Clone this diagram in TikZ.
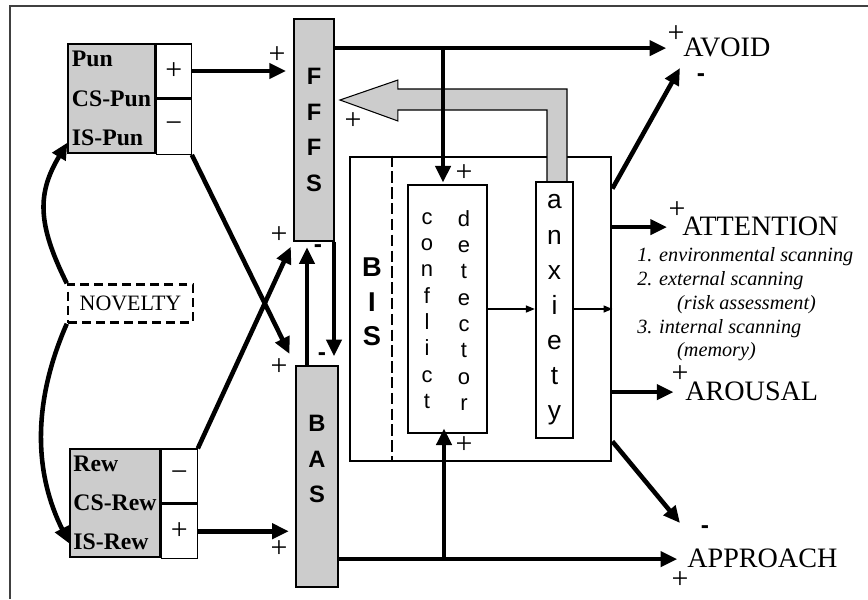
\documentclass[tikz,border=0pt]{standalone}
\usepackage{fontspec}
\setmainfont{Liberation Serif}
\setsansfont{Liberation Sans}
\usetikzlibrary{arrows.meta,positioning,calc}
\colorlet{dots}{black!20}

\begin{document}
\begin{tikzpicture}[
		x=0.02cm, y=-0.02cm,
		box/.style={draw, line width=0.7pt, fill=#1, inner sep=0pt, align=center},
		box/.default=white,
		stack/.style={align=center, font=\sffamily\bfseries\fontsize{13.5}{20.4}\selectfont},
		lbl/.style={align=left, font=\bfseries\fontsize{13.5}{22.3}\selectfont},
		outtxt/.style={inner sep=0pt, anchor=base west, text height=11pt, text depth=2pt, font=\fontsize{16}{16}\selectfont},
		sgn/.style={inner sep=0pt, font=\fontsize{17}{17}\selectfont},
		mns/.style={inner sep=0pt, font=\sffamily\bfseries\fontsize{14}{14}\selectfont},
		arr/.style={-{Triangle[length=9.5pt,width=8.5pt]}, line width=2.6pt},
		tarr/.style={-{Triangle[length=5pt,width=4pt]}, line width=0.6pt}
		]
		\useasboundingbox (0,0) rectangle (868,599);
		\draw[black!75, line width=1.1pt] (868,6) -- (10,6) -- (10,599);
		
		\node[box=dots, lbl, minimum width=1.74cm, minimum height=2.18cm] (punL) at (111.5,98.5) {Pun\\CS-Pun\\IS-Pun};
		\node[box, sgn, minimum width=0.7cm, minimum height=1.08cm, anchor=north west] (punP) at (punL.north east) {+};
		\node[box, sgn, minimum width=0.7cm, minimum height=1.1cm, anchor=north] (punM) at (punP.south) {−};
		\node[box=dots, lbl, minimum width=1.8cm, minimum height=2.16cm] (rewL) at (115,503) {Rew\\CS-Rew\\IS-Rew};
		\node[box, sgn, minimum width=0.72cm, minimum height=1.08cm, anchor=north west] (rewM) at (rewL.north east) {−};
		\node[box, sgn, minimum width=0.72cm, minimum height=1.08cm, anchor=north] (rewP) at (rewM.south) {+};
		\node[box, line width=1.4pt, dash pattern=on 5pt off 3pt, minimum width=2.5cm, minimum height=0.76cm,
			font=\fontsize{12.5}{12.5}\selectfont] (novelty) at (130.5,303.5) {NOVELTY};
		
		\node[box=dots, stack, line width=1.1pt, minimum width=0.8cm, minimum height=4.44cm] (fffs) at (314,130) {F\\F\\F\\S};
		\node[box=dots, line width=1.1pt, minimum width=0.84cm, minimum height=4.42cm] (bas) at (317,476.5) {};
		\node[stack] (basT) at (317,459) {B\\A\\S};
		
		\node[box, line width=1.6pt, minimum width=5.22cm, minimum height=6.08cm] (bis) at (480.5,309) {};
		\node[stack, font=\sffamily\bfseries\fontsize{15.5}{19.6}\selectfont] (bisT) at (372,302) {B\\I\\S};
		\draw[line width=1.1pt, dash pattern=on 6.5pt off 2.5pt] ($(bis.north west)+(43,0)$) -- ($(bis.south west)+(43,0)$);
		\node[box, minimum width=1.58cm, minimum height=4.96cm] (conf) at (447.5,309) {};
		\node[align=center, font=\sffamily\fontsize{12.5}{15}\selectfont] (confA) at (427,310.5) {c\\o\\n\\f\\l\\i\\c\\t};
		\node[align=center, font=\sffamily\fontsize{12.5}{15}\selectfont] (confB) at (464,310.5) {d\\e\\t\\e\\c\\t\\o\\r};
		\node[box, line width=1.4pt, minimum width=0.74cm, minimum height=5.12cm,
			font=\sffamily\fontsize{15}{20}\selectfont] (anx) at (554.5,310) {a\\n\\x\\i\\e\\t\\y};
		
		\coordinate (fTip) at ($(fffs.east)+(5,-30)$);
		\draw[fill=dots, line width=0.6pt] ($(anx.north)+(-7.5,0)$) |- ($(fTip)+(58,10)$) -- ++(0,11) -- (fTip)
			-- ++(58,-20) -- ++(0,9) -| ($(anx.north)+(12.5,0)$);
		
		\node[outtxt] (avoid) at (683,56) {AVOID};
		\node[outtxt] (attention) at (682,235) {ATTENTION};
		\node[outtxt] (arousal) at (685,400) {AROUSAL};
		\node[outtxt] (approach) at (687,567) {APPROACH};
		\node[anchor=north west, inner sep=0pt, align=left, font=\itshape\fontsize{11.5}{13.6}\selectfont] (scan) at (637,247)
			{1. environmental scanning\\2. external scanning\\\hspace*{22.7pt}(risk assessment)\\3. internal scanning\\\hspace*{22.7pt}(memory)};
		
		\draw[arr, shorten >=4pt] (punP.east) -- (punP.east -| fffs.west);
		\draw[arr, shorten >=7pt] (punM.south east) -- (bas.north west);
		\draw[arr, shorten >=3pt] (rewM.north east) -- (fffs.south west);
		\draw[arr, shorten >=3.5pt] (rewP.east) -- (rewP.east -| bas.west);
		\draw[arr] (novelty.north west) .. controls +(-30,-60) and +(-30,50) .. ($(punL.south west)+(0,-11)$);
		\draw[arr] (novelty.south west) .. controls +(-35,80) and +(-35,-70) .. ($(rewL.south west)+(0,-14)$);
		
		\coordinate (bUp) at ($(bas.north)+(-10,0)$);
		\coordinate (fDn) at ($(fffs.south east)+(-1,0)$);
		\draw[arr, shorten >=3pt] (bUp) -- (bUp |- fffs.south);
		\draw[arr, shorten >=5pt] (fDn) -- (fDn |- bas.north);
		
		\draw[arr, shorten >=9.5pt] (fffs.east |- avoid.west) -- (avoid.west);
		\draw[arr, shorten >=5.5pt] (bas.east |- approach.west) -- (approach.west);
		\coordinate (cN) at ($(conf.north)+(-4.5,0)$);
		\coordinate (cS) at ($(conf.south)+(-3.5,0)$);
		\draw[arr, shorten >=1pt] (cN |- avoid.west) -- (cN);
		\draw[arr, shorten >=-3pt] (cS |- approach.west) -- (cS);
		\draw[tarr] (conf.east) -- (conf.east -| anx.west);
		\draw[tarr] (anx.east |- conf.east) -- (conf.east -| bis.east);
		
		\draw[arr] ($(bis.north east)+(0,33)$) -- ($(avoid.base west)+(-3,12)$);
		\draw[arr, shorten >=8.5pt] (bis.east |- attention.west) -- (attention.west);
		\draw[arr, shorten >=6.5pt] (bis.east |- arousal.west) -- (arousal.west);
		\draw[arr] ($(bis.south east)+(0,-21)$) -- ($(approach.base west)+(-7,-44)$);
		
		\foreach \p [count=\i] in {(277,55),(353,121),(279,235),(279,367),(279,549),(464,173),(464,445),(676,34),(677,210),(680,374),(680,580)}
			\node[sgn] (plus\i) at \p {+};
		\foreach \p [count=\i] in {(318,249),(322,357),(701,78),(705,530)}
			\node[mns] (minus\i) at \p {-};
	\end{tikzpicture}
\end{document}
